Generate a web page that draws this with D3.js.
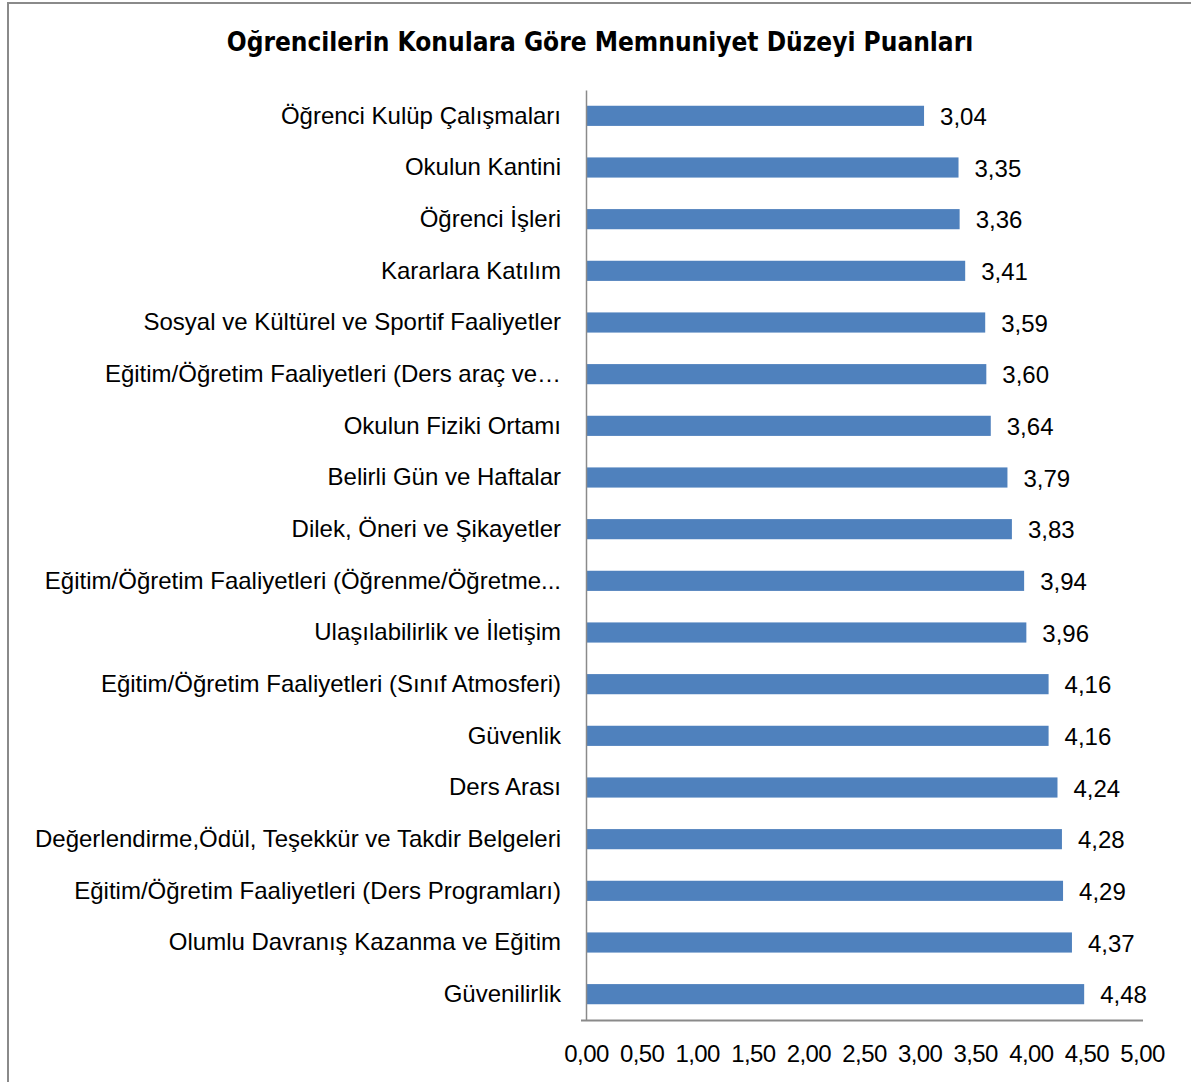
<!DOCTYPE html>
<html><head><meta charset="utf-8">
<script src="https://cdn.jsdelivr.net/npm/d3@7"></script>
<style>body{margin:0;background:#fff;}svg{display:block;}</style>
</head><body>
<svg id="c" width="1191" height="1082"></svg>
<script>
const title = "Oğrencilerin Konulara Göre Memnuniyet Düzeyi Puanları";
const categories = [
  "Öğrenci Kulüp Çalışmaları",
  "Okulun Kantini",
  "Öğrenci İşleri",
  "Kararlara Katılım",
  "Sosyal ve Kültürel ve Sportif Faaliyetler",
  "Eğitim/Öğretim Faaliyetleri (Ders araç ve…",
  "Okulun Fiziki Ortamı",
  "Belirli Gün ve Haftalar",
  "Dilek, Öneri ve Şikayetler",
  "Eğitim/Öğretim Faaliyetleri (Öğrenme/Öğretme...",
  "Ulaşılabilirlik ve İletişim",
  "Eğitim/Öğretim Faaliyetleri (Sınıf Atmosferi)",
  "Güvenlik",
  "Ders Arası",
  "Değerlendirme,Ödül, Teşekkür ve Takdir Belgeleri",
  "Eğitim/Öğretim Faaliyetleri (Ders Programları)",
  "Olumlu Davranış Kazanma ve Eğitim",
  "Güvenilirlik"
];
const values = [3.04, 3.35, 3.36, 3.41, 3.59, 3.60, 3.64, 3.79, 3.83, 3.94, 3.96, 4.16, 4.16, 4.24, 4.28, 4.29, 4.37, 4.48];
const tickValues = [0, 0.5, 1, 1.5, 2, 2.5, 3, 3.5, 4, 4.5, 5];

const fmt = v => v.toFixed(2).replace(".", ",");
const svg = d3.select("#c");

// chart border (left & top visible)
svg.append("path").attr("d", "M8,1082 L8,3 L1191,3").attr("fill", "none").attr("stroke", "#8a8a8a").attr("stroke-width", 2);

svg.append("text").attr("x", 600).attr("y", 51).attr("text-anchor", "middle")
  .attr("font-family", "'DejaVu Sans Condensed', 'DejaVu Sans', sans-serif").attr("font-stretch", "condensed")
  .attr("font-weight", "bold").attr("font-size", 26)
  .attr("fill", "#000").text(title);

const x = d3.scaleLinear().domain([0, 5]).range([586, 1142]);
const y = d3.scaleBand().domain(categories).range([90, 1020]).paddingInner(0.61).paddingOuter(0.305);

svg.selectAll("rect.bar").data(values).join("rect").attr("class", "bar")
  .attr("x", x(0)).attr("y", (d, i) => y(categories[i]))
  .attr("width", d => x(d) - x(0)).attr("height", y.bandwidth())
  .attr("fill", "#4F81BD");

svg.selectAll("text.val").data(values).join("text").attr("class", "val")
  .attr("x", d => x(d) + 16).attr("y", (d, i) => y(categories[i]) + y.bandwidth() / 2 + 9)
  .attr("font-family", "'Liberation Sans', Arial, sans-serif").attr("font-size", 24).attr("fill", "#000")
  .text(fmt);

// y-axis
const yAxis = svg.append("g").attr("transform", `translate(${x(0)},0)`)
  .call(d3.axisLeft(y).tickSize(0).tickPadding(25));
yAxis.select(".domain").attr("stroke", "#8a8a8a").attr("stroke-width", 1.5);
yAxis.selectAll("text").attr("font-family", "'Liberation Sans', Arial, sans-serif")
  .attr("font-size", 24).attr("fill", "#000").attr("dy", "0.32em");

// x-axis
const xAxis = svg.append("g").attr("transform", "translate(0,1020)")
  .call(d3.axisBottom(x).tickValues(tickValues).tickSize(0).tickPadding(25).tickFormat(fmt));
xAxis.select(".domain").attr("stroke", "#8a8a8a").attr("stroke-width", 2).attr("d", "M581,0.5H1143");
xAxis.selectAll("text").attr("font-family", "'Liberation Sans', Arial, sans-serif")
  .attr("font-size", 24).attr("fill", "#000").attr("letter-spacing", -0.6);
</script>
</body></html>
